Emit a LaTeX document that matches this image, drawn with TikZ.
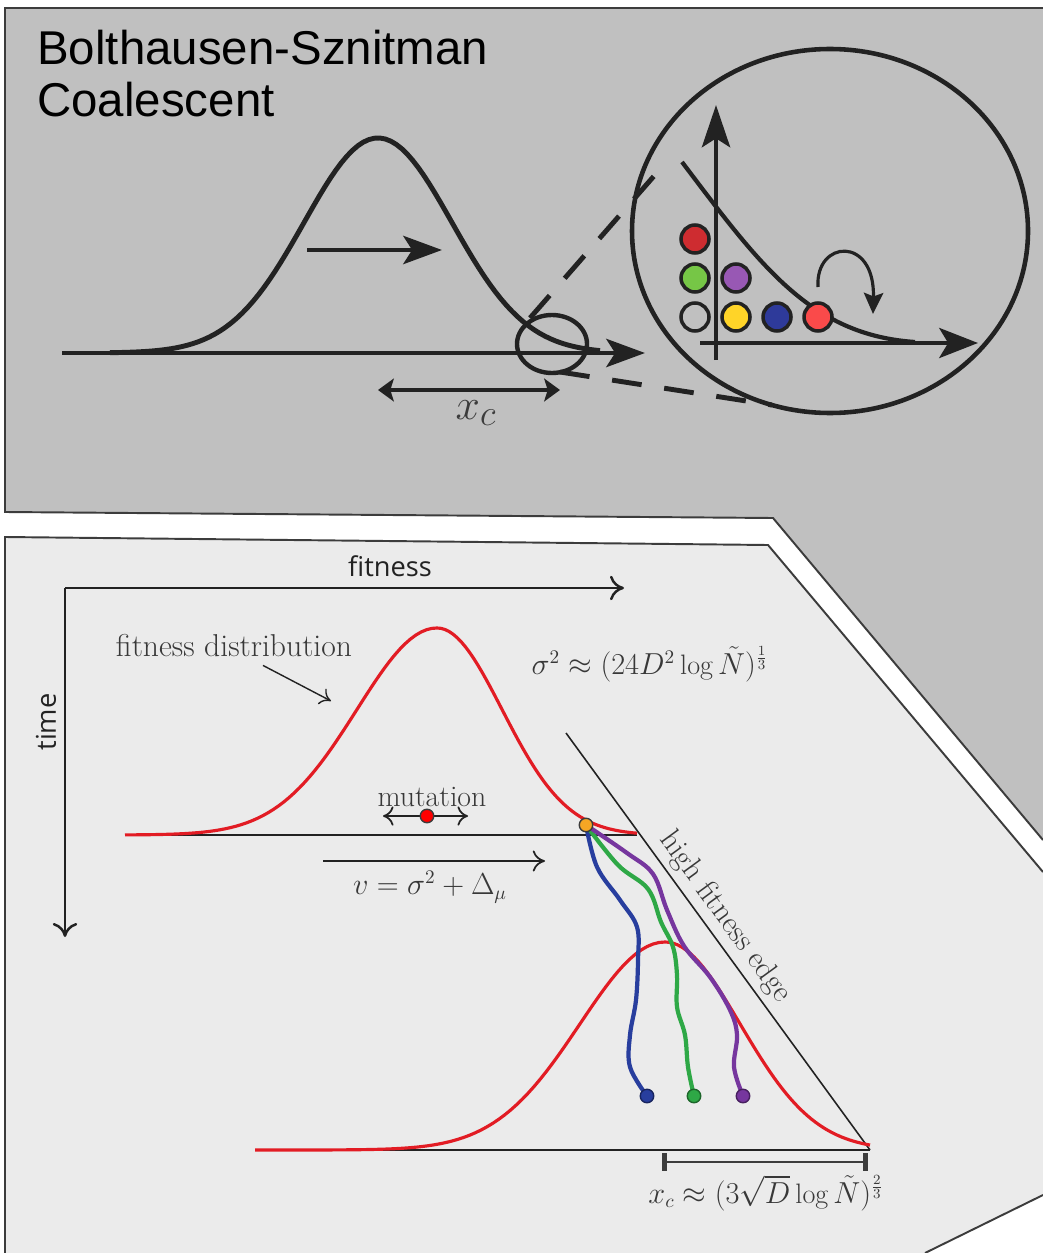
\documentclass[tikz,border=0pt]{standalone}
\usepackage{amsmath}
\usepackage{xcolor}
\usepackage{fontspec}
\setsansfont{Liberation Sans}
\newfontfamily\axisfont{Open Sans}
\usepackage{tikz}
\usetikzlibrary{positioning,arrows.meta}
\definecolor{panelgray}{RGB}{192,192,192}
\definecolor{panellight}{RGB}{235,235,235}
\definecolor{ink}{RGB}{34,34,34}
\definecolor{softink}{RGB}{60,60,60}
\definecolor{curvered}{RGB}{226,28,36}
\definecolor{balldarkred}{RGB}{206,44,48}
\definecolor{ballgreen}{RGB}{118,198,70}
\definecolor{ballpurple}{RGB}{152,88,180}
\definecolor{ballyellow}{RGB}{255,212,40}
\definecolor{ballblue}{RGB}{46,58,154}
\definecolor{balllightred}{RGB}{250,74,74}
\definecolor{linblue}{RGB}{40,62,158}
\definecolor{lingreen}{RGB}{46,168,70}
\definecolor{linpurple}{RGB}{118,54,158}
\definecolor{linorange}{RGB}{246,166,36}

\begin{document}
\begin{tikzpicture}[
  x=0.02cm,y=-0.02cm,
  panelline/.style={draw=softink,line width=1.1pt},
  thickline/.style={draw=ink,line width=2.8pt},
  bigarrow/.style={thickline,-{Stealth[length=22pt,width=16pt,inset=5pt]}},
  midarrow/.style={draw=ink,line width=2.2pt,
                   {Stealth[length=9pt,width=13pt,inset=2pt]}-{Stealth[length=9pt,width=13pt,inset=2pt]}},
  ball/.style={circle,draw=ink,line width=2pt,minimum size=0.56cm,inner sep=0pt},
  smallball/.style={circle,draw=softink,line width=0.8pt,minimum size=0.27cm,inner sep=0pt},
  thinline/.style={draw=ink,line width=0.9pt},
  thinarrow/.style={draw=ink,line width=1.4pt,-{Computer Modern Rightarrow[length=8pt,width=14pt]}},
  redcurve/.style={draw=curvered,line width=1.8pt},
  lineage/.style={line width=2.4pt,line cap=round},
  serif/.style={text=ink!90,font=\fontsize{16}{19}\selectfont}
]
\useasboundingbox (0,0) rectangle (1043,1253);
\fill[white] (0,0) rectangle (1043,1253);

\fill[panelgray] (5,8) -- (1043,8) -- (1043,840) -- (773,518) -- (5,512) -- cycle;
\draw[panelline] (1043,8) -- (5,8) -- (5,512) -- (773,518) -- (1043,840);
\fill[panellight] (5,537) -- (768,545) -- (1043,872) -- (1043,1195) -- (925,1253) -- (5,1253) -- cycle;
\draw[panelline] (5,1253) -- (5,537) -- (768,545) -- (1043,872);
\draw[panelline] (925,1253) -- (1043,1195);

\node[anchor=north west,align=left,inner sep=0pt,text=black,
      font=\sffamily\fontsize{27}{29.5}\selectfont] (title) at (37,30) {Bolthausen-Sznitman\\Coalescent};

\coordinate (axisL) at (62,353);
\coordinate (axisR) at (645,353);
\draw[bigarrow] (axisL) -- (axisR);
\draw[thickline] plot[domain=110:600,samples=90] (\x,{353-215*exp(-((\x-378)/74)^2/2)});
\coordinate (driftL) at (307,250);
\coordinate (driftR) at (442,250);
\draw[bigarrow] (driftL) -- (driftR);
\draw[thickline,line width=2.5pt] (552,344) ellipse [x radius=35,y radius=29];
\coordinate (xcL) at (378,390);
\coordinate (xcR) at (560,390);
\draw[midarrow] (xcL) -- (xcR);
\node[text=softink,font=\fontsize{30}{32}\selectfont] (xclabel) at (476,413) {$x_c$};

\coordinate (lensA) at (530,318);
\coordinate (zoomA) at (668,160);
\coordinate (lensB) at (560,372);
\coordinate (zoomB) at (772,405);
\draw[thickline,dash pattern=on 17pt off 13pt] (lensA) -- (zoomA);
\draw[thickline,dash pattern=on 17pt off 13pt] (lensB) -- (zoomB);
\draw[thickline,line width=2.6pt] (830,231) ellipse [x radius=198,y radius=182];

\coordinate (zy0) at (716,360);
\coordinate (zy1) at (716,105);
\coordinate (zx0) at (700,343);
\coordinate (zx1) at (978,343);
\draw[bigarrow,-{Stealth[length=24pt,width=16pt,inset=5pt]}] (zy0) -- (zy1);
\draw[bigarrow,-{Stealth[length=22pt,width=17pt,inset=5pt]}] (zx0) -- (zx1);
\draw[thickline,line width=2.4pt] (682,162) .. controls (760,265) and (810,335) .. (915,342);

\node[ball,fill=balldarkred] (b1) at (695,239) {};
\node[ball,fill=ballgreen] (b2) at (695,278) {};
\node[ball,fill=ballpurple] (b3) at (736,278) {};
\node[ball,fill=panelgray] (b4) at (695,317) {};
\node[ball,fill=ballyellow] (b5) at (736,317) {};
\node[ball,fill=ballblue] (b6) at (777,317) {};
\node[ball,fill=balllightred] (b7) at (818,317) {};
\coordinate (jumpS) at (818,287);
\coordinate (jumpE) at (873,314);
\draw[draw=ink,line width=1.8pt,-{Stealth[length=12pt,width=11pt,inset=2pt]}]
  (jumpS) .. controls (815,240) and (875,235) .. (jumpE);

\coordinate (origin) at (65,588);
\coordinate (fitend) at (624,588);
\coordinate (timeend) at (65,937);
\draw[thinarrow] (origin) -- (fitend);
\draw[thinarrow] (origin) -- (timeend);
\node[text=ink,font=\axisfont\fontsize{15.5}{18}\selectfont] (fitlabel) at (390,566) {fitness};
\node[text=ink,rotate=90,font=\axisfont\fontsize{15.5}{18}\selectfont] (timelabel) at (46,722) {time};

\draw[thinline] (125,835) -- (637,835);
\draw[redcurve] plot[domain=125:437,samples=60] (\x,{835-207*exp(-((\x-437)/80)^2/2)})
  -- plot[domain=437:637,samples=50] (\x,{835-207*exp(-((\x-437)/65)^2/2)});
\node[serif,font=\fontsize{18}{21}\selectfont] (fitdist) at (234,646) {fitness distribution};
\coordinate (fitdisttip) at (331,701);
\draw[thinline,line width=0.8pt,-{Computer Modern Rightarrow[length=6pt,width=10pt]}] (fitdist.south) ++(29,2) -- (fitdisttip);
\node[serif] (sigma) at (650,664) {$\sigma^2 \approx (24D^2\log\tilde{N})^{\frac{1}{3}}$};

\coordinate (mutL) at (383,816);
\coordinate (mutR) at (468,816);
\draw[thinline,line width=1pt,{Computer Modern Rightarrow[length=6pt,width=11pt]}-{Computer Modern Rightarrow[length=6pt,width=11pt]}] (mutL) -- (mutR);
\node[smallball,fill=red] (mutdot) at (427,816) {};
\node[serif,font=\fontsize{17}{20}\selectfont] (mutlabel) at (432,797) {mutation};
\coordinate (vL) at (323,861);
\coordinate (vR) at (545,861);
\draw[thinline,line width=1pt,-{Computer Modern Rightarrow[length=7pt,width=12pt]}] (vL) -- (vR);
\node[serif] (vlabel) at (430,887) {$v=\sigma^2+\Delta_\mu$};

\coordinate (edgetop) at (566,733);
\coordinate (edgebot) at (870,1150);
\draw[thinline] (edgetop) -- node[sloped,above,pos=0.47,inner sep=3pt,text=ink!90,
  font=\fontsize{17.5}{20}\selectfont] {high fitness edge} (edgebot);

\draw[thinline] (255,1150) -- (870,1150);
\draw[redcurve] plot[domain=255:665,samples=70] (\x,{1150-208*exp(-((\x-665)/85)^2/2)})
  -- plot[domain=665:870,samples=50] (\x,{1150-208*exp(-((\x-665)/75)^2/2)});

\coordinate (barL) at (662,1162);
\coordinate (barR) at (868,1162);
\draw[draw=softink,line width=1pt,{Bar[width=10pt,line width=2.6pt]}-{Bar[width=10pt,line width=2.6pt]}] (barL) -- (barR);
\node[serif] (xcformula) at (766,1193) {$x_c \approx (3\sqrt{D}\log\tilde{N})^{\frac{2}{3}}$};

\coordinate (ancestor) at (586,825);
\coordinate (tipblue) at (647,1096);
\coordinate (tipgreen) at (694,1096);
\coordinate (tippurple) at (743,1096);
\draw[lineage,linblue] plot[smooth,tension=0.6] coordinates {(ancestor) (597,867) (620,900) (637,927) (638,960) (636,1000) (630,1035) (630,1067) (tipblue)};
\draw[lineage,lingreen] plot[smooth,tension=0.6] coordinates {(ancestor) (618,865) (648,889) (661,922) (673,947) (677,975) (677,1007) (685,1035) (688,1067) (tipgreen)};
\draw[lineage,linpurple] plot[smooth,tension=0.6] coordinates {(ancestor) (627,853) (653,874) (667,910) (684,946) (710,977) (730,1010) (737,1035) (734,1067) (tippurple)};
\node[smallball,fill=linorange] (anc) at (ancestor) {};
\node[smallball,fill=linblue,draw=linblue!60!black] (leafblue) at (tipblue) {};
\node[smallball,fill=lingreen,draw=lingreen!60!black] (leafgreen) at (tipgreen) {};
\node[smallball,fill=linpurple,draw=linpurple!60!black] (leafpurple) at (tippurple) {};
\end{tikzpicture}
\end{document}
